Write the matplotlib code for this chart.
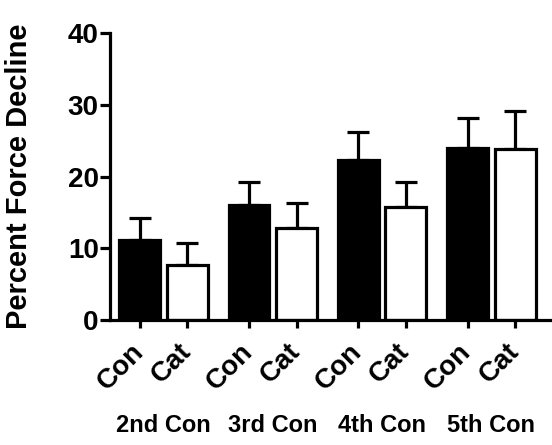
import numpy as np
import matplotlib
matplotlib.use("Agg")
import matplotlib.pyplot as plt

plt.rcParams['font.family'] = ['Liberation Sans', 'DejaVu Sans']
plt.rcParams['font.weight'] = 'bold'

groups = ["2nd Con", "3rd Con", "4th Con", "5th Con"]
conditions = ["Con", "Cat"]
con_mean = [11.2, 16.0, 22.3, 24.0]
cat_mean = [7.7, 12.9, 15.8, 23.8]
con_err = [3.0, 3.3, 3.9, 4.2]
cat_err = [3.1, 3.4, 3.5, 5.4]

fig = plt.figure(figsize=(5.52, 4.45), dpi=100)
ax = fig.add_axes([0.199, 0.281, 0.797, 0.644])

gap = 2.3
centers = np.arange(len(groups)) * gap
x_con = centers
x_cat = centers + 1.0
w = 0.86
lw = 2.3

ax.errorbar(x_con, con_mean, yerr=[np.zeros(4), con_err], fmt='none',
            ecolor='black', elinewidth=lw, capsize=8, capthick=lw, zorder=1)
ax.errorbar(x_cat, cat_mean, yerr=[np.zeros(4), cat_err], fmt='none',
            ecolor='black', elinewidth=lw, capsize=8, capthick=lw, zorder=1)
ax.bar(x_con, con_mean, width=w, color='black', edgecolor='black', linewidth=lw, zorder=2)
ax.bar(x_cat, cat_mean, width=w, color='white', edgecolor='black', linewidth=lw, zorder=2)

ax.set_ylim(0, 40)
ax.set_xlim(-0.63, 8.63)
ax.set_yticks([0, 10, 20, 30, 40])
ax.tick_params(axis='y', labelsize=20, width=lw, length=7, pad=1)

xt = np.ravel(np.column_stack([x_con, x_cat]))
ax.set_xticks(xt)
ax.set_xticklabels(conditions * len(groups), rotation=45, ha='right',
                   va='center', rotation_mode='anchor', fontsize=20)
ax.tick_params(axis='x', width=lw, length=6, pad=14)

for s in ['top', 'right']:
    ax.spines[s].set_visible(False)
for s in ['left', 'bottom']:
    ax.spines[s].set_linewidth(lw)

ax.set_ylabel("Percent Force Decline", fontsize=21, fontweight='bold')
ax.yaxis.set_label_coords(-0.175, 0.5)

for c, g in zip(centers, groups):
    ax.text(c + 0.5, -0.37, g, transform=ax.get_xaxis_transform(),
            ha='center', va='center', fontsize=17, fontweight='bold')

fig.savefig("out.png", dpi=100)
